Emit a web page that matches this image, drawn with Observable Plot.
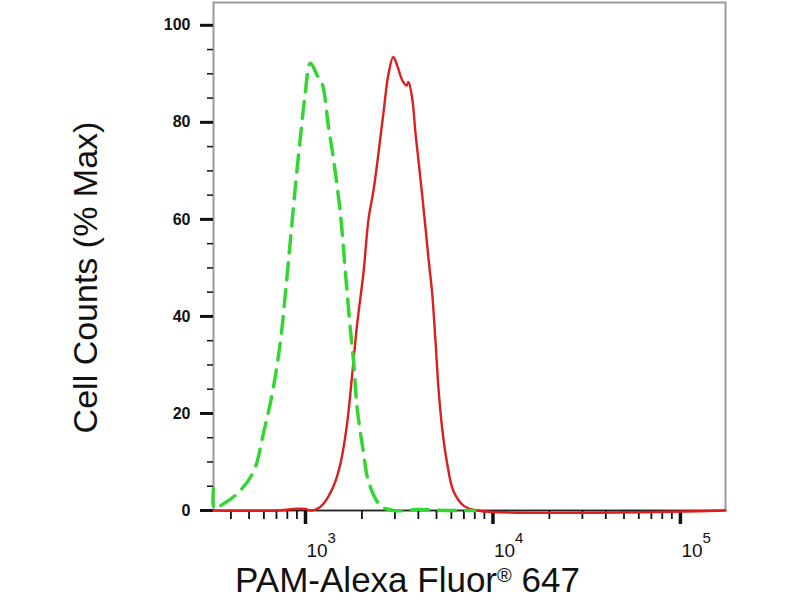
<!DOCTYPE html>
<html>
<head>
<meta charset="utf-8">
<script src="https://cdn.jsdelivr.net/npm/d3@7"></script>
<script src="https://cdn.jsdelivr.net/npm/@observablehq/plot@0.6"></script>
<style>
body { margin: 0; background: #fff; }
#graph svg { display: block; }
</style>
</head>
<body>
<div id="graph"></div>
<script>
// histograms: fluorescence intensity vs % of max
const isotypeX = [323, 326, 352, 433, 528, 597, 664, 736, 782, 832, 884, 940, 990, 1063, 1154, 1227, 1327, 1406, 1537, 1634, 1738, 1803, 1887, 2038, 2168, 2512, 2946, 4000, 5500, 8000];
const isotypeY = [4.5, 0.5, 1, 3.5, 8, 16, 24, 35, 45, 56, 67, 77, 85, 92.2, 89.7, 88, 79, 72.8, 61, 49, 37, 31, 21, 12, 6, 1, 0, 0.2, 0, 0];

const stainedX = [323, 700, 900, 1000, 1064, 1150, 1247, 1410, 1537, 1668, 1774, 1887, 2038, 2168, 2306, 2450, 2606, 2772, 2938, 3085, 3281, 3459, 3543, 3707, 3863, 4009, 4258, 4528, 4742, 4934, 5117, 5356, 5698, 6152, 6966, 8241, 174000];
const stainedY = [0, 0, 0.35, 0.3, 0, 0.3, 1.4, 5, 9.7, 18, 28, 38.5, 49, 60, 66, 73.6, 82, 90, 93.5, 91.7, 88.7, 87.6, 88.3, 85, 77.7, 72, 62.5, 52, 44.7, 35, 25.4, 17, 9.7, 4, 1, 0, 0];

const xDomain = [323, 174000];
const yDomain = [0, 104.7];
const yMajor = [0, 20, 40, 60, 80, 100];
const yMinor = [5, 10, 15, 25, 30, 35, 45, 50, 55, 65, 70, 75, 85, 90, 95];
const xMajor = [1000, 10000, 100000];
const xExp = ["3", "4", "5"];
const xMinor = [400, 500, 600, 700, 800, 900, 2000, 3000, 4000, 5000, 6000, 7000, 8000, 9000, 20000, 30000, 40000, 50000, 60000, 70000, 80000, 90000];
const xTitle = "PAM-Alexa Fluor® 647";
const yTitle = "Cell Counts (% Max)";

const isotype = isotypeX.map((x, i) => ({x: x, y: isotypeY[i]}));
const stained = stainedX.map((x, i) => ({x: x, y: stainedY[i]}));

const narrow = "'Liberation Sans Narrow', 'Liberation Sans', Arial, sans-serif";

const chart = Plot.plot({
	width: 800,
	height: 600,
	marginLeft: 213,
	marginRight: 75,
	marginTop: 2,
	marginBottom: 90,
	style: {fontFamily: "'Liberation Sans', Arial, sans-serif", color: "#111", background: "#fff"},
	x: {type: "log", domain: xDomain, axis: null},
	y: {domain: yDomain, axis: null},
	marks: [
		Plot.frame({stroke: "#9a9a9a", strokeWidth: 2}),
		Plot.ruleY([0], {stroke: "#222", strokeWidth: 1.5}),
		Plot.axisY(yMajor, {anchor: "left", tickSize: 13, tickPadding: 10, strokeWidth: 3, fontSize: 16, fontWeight: "bold", label: null}),
		Plot.axisY(yMinor, {anchor: "left", tickSize: 6, strokeWidth: 1.5, text: null, label: null}),
		Plot.axisX(xMajor, {anchor: "bottom", tickSize: 14, strokeWidth: 3.5, text: null, label: null}),
		Plot.axisX(xMinor, {anchor: "bottom", tickSize: 9, strokeWidth: 1.8, text: null, label: null}),
		Plot.text(xMajor, {x: d => d, text: () => "10", frameAnchor: "bottom", lineAnchor: "middle", dy: 40, dx: 1, textAnchor: "start", fontSize: 19, fontFamily: narrow}),
		Plot.text(xMajor, {x: d => d, text: (d, i) => xExp[i], frameAnchor: "bottom", lineAnchor: "middle", dy: 28, dx: 22, textAnchor: "start", fontSize: 15, fontFamily: narrow}),
		Plot.line(stained, {x: "x", y: "y", stroke: "#dc1e1e", strokeWidth: 2.4, curve: "catmull-rom"}),
		Plot.line(isotype, {x: "x", y: "y", stroke: "#33d633", strokeWidth: 3.5, strokeDasharray: "17,10", curve: "catmull-rom"}),
		Plot.text([yTitle], {text: d => d, frameAnchor: "left", textAnchor: "middle", lineAnchor: "middle", dx: -127, dy: 21, rotate: -90, fontSize: 34}),
		Plot.text([xTitle], {text: d => d, frameAnchor: "bottom", textAnchor: "middle", lineAnchor: "middle", dx: -62, dy: 70, fontSize: 35})
	]
});

d3.select("#graph").append(() => chart);

// raise the ® in the x title
d3.select(chart).selectAll("text")
	.filter(function() { return this.textContent === xTitle; })
	.each(function() {
		const t = d3.select(this);
		t.text(null);
		t.append("tspan").text("PAM-Alexa Fluor");
		t.append("tspan").attr("font-size", 20).attr("dy", -10).text("®");
		t.append("tspan").attr("dy", 10).text(" 647");
	});
</script>
</body>
</html>
